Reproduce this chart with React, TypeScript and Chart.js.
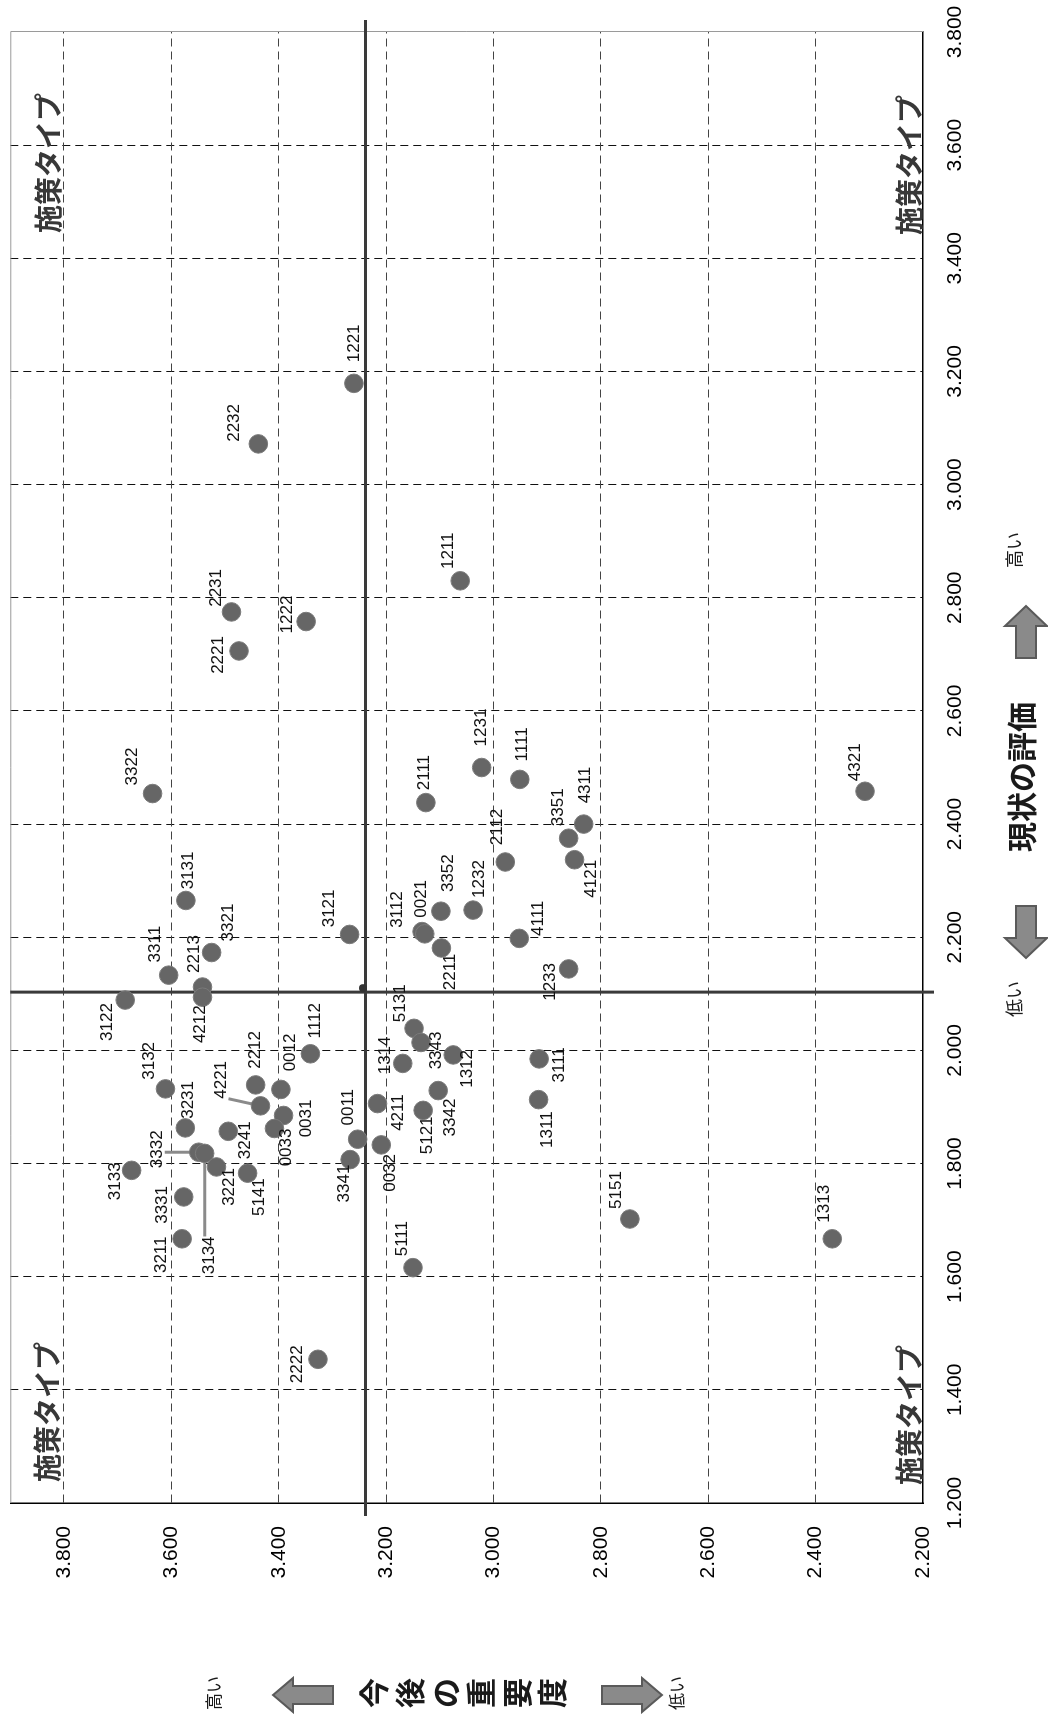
import React, { useEffect, useRef } from "react";
import { Chart, registerables } from "chart.js";

Chart.register(...registerables);

// ---- data ----
const codes = [
  "1221", "2232", "1211", "2231", "1222", "2221", "1231", "1111", "2111", "2112",
  "3351", "4311", "4121", "1232", "4321", "3322", "3131", "3321", "3311", "2213",
  "4212", "3122", "3121", "3112", "0021", "3352", "4111", "2211", "1233", "5131",
  "3343", "1314", "1312", "3111", "1311", "1112", "2212", "0012", "3132", "4221",
  "0031", "3231", "3241", "0033", "3332", "3134", "3221", "5141", "3133", "3331",
  "3211", "0011", "4211", "5121", "3342", "0032", "3341", "5151", "1313", "5111",
  "2222",
];
// 今後の重要度 (vertical value in the original chart)
const importance = [
  3.260, 3.438, 3.062, 3.488, 3.349, 3.474, 3.022, 2.951, 3.126, 2.978,
  2.860, 2.832, 2.849, 3.038, 2.308, 3.635, 3.573, 3.525, 3.605, 3.542,
  3.542, 3.686, 3.268, 3.133, 3.128, 3.098, 2.952, 3.097, 2.860, 3.148,
  3.135, 3.169, 3.075, 2.915, 2.916, 3.341, 3.443, 3.396, 3.611, 3.434,
  3.391, 3.574, 3.494, 3.408, 3.549, 3.538, 3.516, 3.458, 3.674, 3.577,
  3.580, 3.253, 3.216, 3.131, 3.103, 3.209, 3.267, 2.746, 2.369, 3.150,
  3.327,
];
// 現状の評価 (horizontal value in the original chart)
const evaluation = [
  3.179, 3.072, 2.830, 2.775, 2.758, 2.706, 2.500, 2.479, 2.438, 2.333,
  2.375, 2.400, 2.337, 2.248, 2.458, 2.454, 2.265, 2.173, 2.133, 2.112,
  2.094, 2.089, 2.205, 2.210, 2.206, 2.246, 2.198, 2.181, 2.144, 2.039,
  2.014, 1.977, 1.992, 1.985, 1.913, 1.994, 1.939, 1.931, 1.932, 1.902,
  1.885, 1.863, 1.857, 1.862, 1.820, 1.818, 1.794, 1.783, 1.788, 1.741,
  1.667, 1.843, 1.906, 1.894, 1.929, 1.833, 1.807, 1.702, 1.667, 1.616,
  1.454,
];
const meanImportance = 3.2385;
const meanEvaluation = 2.103;
const meanPointImportance = [3.243];
const meanPointEvaluation = [2.110];

const evaluationTicks = [1.2, 1.4, 1.6, 1.8, 2.0, 2.2, 2.4, 2.6, 2.8, 3.0, 3.2, 3.4, 3.6, 3.8];
const importanceTicks = [2.2, 2.4, 2.6, 2.8, 3.0, 3.2, 3.4, 3.6, 3.8];

const quadrantText = "施策タイプ";
const evaluationTitle = "現状の評価";
const importanceTitle = "今後の重要度";
const highText = "高い";
const lowText = "低い";
const leaderCodes = ["4221", "3332", "3134"];

// label placement (style): pixel offset of each label from its point
const labelOffsets: [number, number][] = [
  [40, 0], [21, -24], [30, -12], [24, -15], [7, -19], [-4, -21], [40, 0], [35, 3], [30, -2], [35, -8],
  [31, -10], [39, 2], [-19, 17], [31, 6], [29, -10], [27, -20], [30, 2], [30, 17], [31, -13], [33, -8],
  [-27, -2], [-22, -18], [26, -20], [22, -25], [35, -3], [38, 7], [20, 19], [-24, 9], [-13, -18], [25, -14],
  [-8, 15], [8, -17], [-14, 14], [-6, 20], [-30, 9], [33, 5], [35, 0], [37, 9], [28, -16], [26, -39],
  [-3, 23], [28, 3], [-9, 17], [-19, 12], [3, -41], [-102, 5], [-20, 13], [-24, 12], [-11, -16], [-8, -21],
  [-16, -21], [32, -9], [-9, 21], [-25, 4], [-27, 12], [-28, 9], [-24, -6], [29, -14], [35, -8], [29, -11],
  [-5, -21],
];

const LABEL_FONT = '17px "Liberation Sans", Arial, sans-serif';
const TICK_FONT_FAMILY = '"Liberation Sans", Arial, sans-serif';
const JP_FONT = '"Noto Sans CJK JP", "Noto Sans", sans-serif';

function drawArrow(ctx: CanvasRenderingContext2D, cx: number, cy: number, angle: number, L: number, sw: number, hw: number, hl: number) {
  ctx.save();
  ctx.translate(cx, cy);
  ctx.rotate(angle);
  ctx.beginPath();
  ctx.moveTo(-L / 2, -sw / 2);
  ctx.lineTo(L / 2 - hl, -sw / 2);
  ctx.lineTo(L / 2 - hl, -hw / 2);
  ctx.lineTo(L / 2, 0);
  ctx.lineTo(L / 2 - hl, hw / 2);
  ctx.lineTo(L / 2 - hl, sw / 2);
  ctx.lineTo(-L / 2, sw / 2);
  ctx.closePath();
  ctx.fillStyle = "#8a8a8a";
  ctx.fill();
  ctx.strokeStyle = "#5a5a5a";
  ctx.lineWidth = 2;
  ctx.stroke();
  ctx.restore();
}

function zeroPadding(scale: any) {
  scale.paddingLeft = 0;
  scale.paddingRight = 0;
  scale.paddingTop = 0;
  scale.paddingBottom = 0;
}

const overlayPlugin = {
  id: "overlay",
  beforeDatasetsDraw(chart: any) {
    const ctx: CanvasRenderingContext2D = chart.ctx;
    const xs = chart.scales.x;
    const ys = chart.scales.y;
    const ca = chart.chartArea;
    ctx.save();
    // plot frame (top and right sides)
    ctx.strokeStyle = "#9a9a9a";
    ctx.lineWidth = 1;
    ctx.beginPath();
    ctx.moveTo(ca.left, ca.top + 0.5);
    ctx.lineTo(ca.right + 0.5, ca.top + 0.5);
    ctx.lineTo(ca.right + 0.5, ca.bottom);
    ctx.stroke();
    // quadrant lines
    ctx.strokeStyle = "#3a3a3a";
    ctx.lineWidth = 3;
    const qx = xs.getPixelForValue(meanEvaluation);
    const qy = ys.getPixelForValue(meanImportance);
    ctx.beginPath();
    ctx.moveTo(qx, ca.top);
    ctx.lineTo(qx, ca.bottom + 11);
    ctx.moveTo(ca.left - 13, qy);
    ctx.lineTo(ca.right + 12, qy);
    ctx.stroke();
    // leader lines
    ctx.font = LABEL_FONT;
    ctx.strokeStyle = "#8a8a8a";
    ctx.lineWidth = 3;
    codes.forEach((code, i) => {
      if (!leaderCodes.includes(code)) return;
      const px = xs.getPixelForValue(evaluation[i]);
      const py = ys.getPixelForValue(importance[i]);
      const lx = px + labelOffsets[i][0];
      const ly = py + labelOffsets[i][1];
      const w = ctx.measureText(code).width;
      const bx = Math.min(Math.max(px, lx - w / 2), lx + w / 2);
      const by = Math.min(Math.max(py, ly - 7), ly + 7);
      ctx.beginPath();
      ctx.moveTo(bx, by);
      ctx.lineTo(px, py);
      ctx.stroke();
    });
    ctx.restore();
  },
  afterDatasetsDraw(chart: any) {
    const ctx: CanvasRenderingContext2D = chart.ctx;
    const xs = chart.scales.x;
    const ys = chart.scales.y;
    const ca = chart.chartArea;
    ctx.save();
    // point labels
    ctx.font = LABEL_FONT;
    ctx.fillStyle = "#111111";
    ctx.textAlign = "center";
    ctx.textBaseline = "middle";
    codes.forEach((code, i) => {
      const px = xs.getPixelForValue(evaluation[i]);
      const py = ys.getPixelForValue(importance[i]);
      ctx.fillText(code, px + labelOffsets[i][0], py + labelOffsets[i][1]);
    });
    // quadrant captions
    ctx.font = `bold 28px ${JP_FONT}`;
    ctx.fillStyle = "#383838";
    ctx.textAlign = "left";
    ctx.textBaseline = "middle";
    ctx.fillText(quadrantText, ca.left + 21, ca.top + 37);
    ctx.fillText(quadrantText, ca.right - 201, ca.top + 38);
    ctx.fillText(quadrantText, ca.left + 18, ca.bottom - 14);
    ctx.fillText(quadrantText, ca.right - 203, ca.bottom - 14);
    ctx.restore();
  },
  afterDraw(chart: any) {
    const ctx: CanvasRenderingContext2D = chart.ctx;
    ctx.save();
    ctx.fillStyle = "#1a1a1a";
    ctx.textAlign = "center";
    ctx.textBaseline = "middle";
    // horizontal axis title (現状の評価)
    const ty = 1022;
    ctx.font = `bold 30px ${JP_FONT}`;
    ctx.fillText(evaluationTitle, 942, ty);
    ctx.font = `18px ${JP_FONT}`;
    ctx.fillText(lowText, 720, ty - 8);
    ctx.fillText(highText, 1169, ty - 8);
    drawArrow(ctx, 787, ty + 4, Math.PI, 52, 20, 42, 20);
    drawArrow(ctx, 1087, ty + 4, 0, 52, 20, 42, 20);
    // vertical axis title (今後の重要度), stacked characters
    const tx = 26;
    ctx.font = `bold 30px ${JP_FONT}`;
    const chars = Array.from(importanceTitle);
    chars.forEach((c, i) => {
      ctx.fillText(c, tx, 374 + i * 35.6);
    });
    ctx.font = `17px ${JP_FONT}`;
    ctx.fillText(highText, tx, 214);
    ctx.fillText(lowText, tx, 677);
    drawArrow(ctx, tx - 2, 303, -Math.PI / 2, 60, 18, 34, 20);
    drawArrow(ctx, tx - 2, 632, Math.PI / 2, 60, 18, 34, 20);
    ctx.restore();
  },
};

export default function App() {
  const ref = useRef<HTMLCanvasElement>(null);
  useEffect(() => {
    const canvas = ref.current;
    if (!canvas) return;
    const points = codes.map((c, i) => ({ x: evaluation[i], y: importance[i] }));
    const meanPts = meanPointEvaluation.map((v, i) => ({ x: v, y: meanPointImportance[i] }));
    const chart = new Chart(canvas, {
      type: "scatter",
      data: {
        datasets: [
          {
            label: "施策",
            data: points,
            pointRadius: 9.3,
            pointHoverRadius: 9.3,
            backgroundColor: "#666666",
            borderColor: "#7a7a7a",
            borderWidth: 1,
          },
          {
            label: "平均",
            data: meanPts,
            pointRadius: 4,
            backgroundColor: "#333333",
            borderColor: "#333333",
            borderWidth: 0,
          },
        ],
      },
      options: {
        responsive: false,
        maintainAspectRatio: false,
        animation: false,
        events: [],
        layout: { padding: { left: 0, right: 32, top: 8, bottom: 0 } },
        plugins: {
          legend: { display: false },
          tooltip: { enabled: false },
        },
        scales: {
          x: {
            type: "linear",
            min: 1.2,
            max: 3.8,
            afterBuildTicks: (scale: any) => {
              scale.ticks = evaluationTicks.map((v) => ({ value: v }));
            },
            afterFit: (scale: any) => {
              scale.height = 125;
              zeroPadding(scale);
            },
            ticks: {
              autoSkip: false,
              maxRotation: 0,
              minRotation: 0,
              padding: 20,
              color: "#000",
              font: { family: TICK_FONT_FAMILY, size: 21 },
              callback: (v: any) => Number(v).toFixed(3),
            },
            grid: {
              drawTicks: false,
              lineWidth: 1,
              color: (c: any) =>
                c.index === 0 || c.index === evaluationTicks.length - 1 ? "rgba(0,0,0,0)" : "#111111",
            },
            border: { display: true, color: "#000", width: 1.5, dash: [8, 5] },
          },
          y: {
            type: "linear",
            min: 2.2,
            max: 3.9,
            afterBuildTicks: (scale: any) => {
              scale.ticks = importanceTicks.map((v) => ({ value: v }));
            },
            afterFit: (scale: any) => {
              scale.width = 216;
              zeroPadding(scale);
            },
            ticks: {
              autoSkip: false,
              padding: 23,
              color: "#000",
              font: { family: TICK_FONT_FAMILY, size: 21 },
              callback: (v: any) => Number(v).toFixed(3),
            },
            grid: {
              drawTicks: false,
              lineWidth: 1,
              color: (c: any) => (c.index === 0 ? "rgba(0,0,0,0)" : "#444444"),
            },
            border: { display: true, color: "#000", width: 1.5, dash: [8, 5] },
          },
        },
      },
      plugins: [overlayPlugin],
    } as any);
    return () => chart.destroy();
  }, []);

  return (
    <div
      style={{
        position: "absolute",
        left: 0,
        top: 0,
        width: 1048,
        height: 1719,
        overflow: "hidden",
        background: "#ffffff",
      }}
    >
      <div
        style={{
          position: "absolute",
          left: 0,
          top: 0,
          width: 1719,
          height: 1048,
          transformOrigin: "0 0",
          transform: "translateY(1719px) rotate(-90deg)",
        }}
      >
        <canvas ref={ref} width={1719} height={1048} style={{ display: "block", width: 1719, height: 1048 }} />
      </div>
    </div>
  );
}
